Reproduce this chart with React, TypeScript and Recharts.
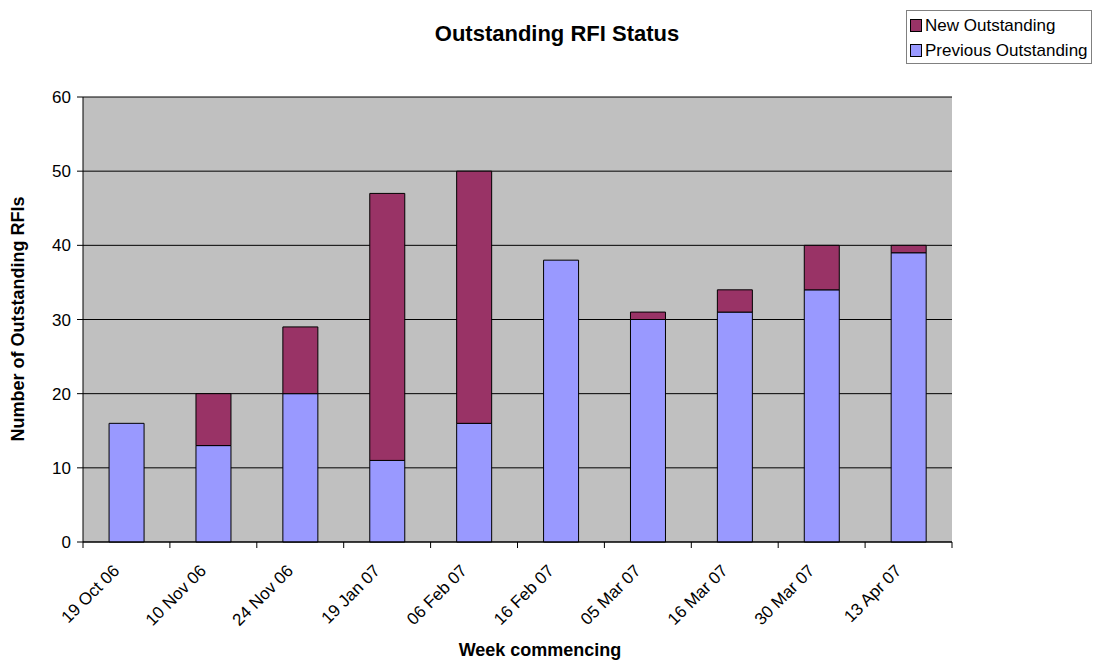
import { BarChart, Bar, XAxis, YAxis, CartesianGrid } from "recharts";

const weeks = [
  "19 Oct 06",
  "10 Nov 06",
  "24 Nov 06",
  "19 Jan 07",
  "06 Feb 07",
  "16 Feb 07",
  "05 Mar 07",
  "16 Mar 07",
  "30 Mar 07",
  "13 Apr 07",
];
const previousOutstanding = [16, 13, 20, 11, 16, 38, 30, 31, 34, 39];
const newOutstanding = [0, 7, 9, 36, 34, 0, 1, 3, 6, 1];
const yTicks = [0, 10, 20, 30, 40, 50, 60];

const data = weeks.map((week, i) => ({
  week,
  previous: previousOutstanding[i],
  fresh: newOutstanding[i],
}));

const FONT = "'Liberation Sans', Arial, sans-serif";
const W = 1098;
const H = 664;
const margin = { top: 97, right: 146, left: 33, bottom: 22 };
const Y_AXIS_W = 50;
const PLOT_W = W - margin.left - margin.right - Y_AXIS_W;
const BAND = PLOT_W / weeks.length;

function XTick(props: any) {
  const { x, y, index } = props;
  const half = BAND / 2;
  const last = index === weeks.length - 1;
  const ax = x - 10;
  const ay = y + 26;
  return (
    <g>
      <line x1={x - half} y1={y} x2={x - half} y2={y + 6} stroke="#000" />
      {last && <line x1={x + half} y1={y} x2={x + half} y2={y + 6} stroke="#000" />}
      <text
        x={ax}
        y={ay}
        textAnchor="end"
        dominantBaseline="central"
        transform={`rotate(-45, ${ax}, ${ay})`}
        fontSize={17}
        fontFamily={FONT}
        fill="#000"
      >
        {props.payload.value}
      </text>
    </g>
  );
}

function LegendBox() {
  const items = [
    { label: "New Outstanding", color: "#993366" },
    { label: "Previous Outstanding", color: "#9999ff" },
  ];
  return (
    <div
      style={{
        position: "absolute",
        left: 906,
        top: 10,
        width: 186,
        height: 54,
        boxSizing: "border-box",
        border: "1px solid #808080",
        background: "#fff",
        padding: "2px 0 0 3px",
        fontFamily: FONT,
        fontSize: 17,
        lineHeight: "25px",
      }}
    >
      {items.map((it) => (
        <div key={it.label} style={{ display: "flex", alignItems: "center", whiteSpace: "nowrap" }}>
          <span
            style={{
              display: "inline-block",
              width: 10,
              height: 11,
              background: it.color,
              border: "1px solid #000",
              marginRight: 3,
            }}
          />
          {it.label}
        </div>
      ))}
    </div>
  );
}

export default function App() {
  return (
    <div style={{ position: "absolute", left: 0, top: 0, width: W, height: H, background: "#fff" }}>
      <BarChart width={W} height={H} data={data} margin={margin} barCategoryGap="30%">
        <CartesianGrid vertical={false} stroke="#000" fill="#c0c0c0" />
        <XAxis
          dataKey="week"
          interval={0}
          height={100}
          tickLine={false}
          tickSize={0}
          tickMargin={0}
          tick={<XTick />}
          axisLine={{ stroke: "#000" }}
        />
        <YAxis
          width={Y_AXIS_W}
          domain={[0, 60]}
          ticks={yTicks}
          interval={0}
          tickSize={6}
          tickMargin={6}
          tick={{ fill: "#000", fontSize: 17, fontFamily: FONT }}
          tickLine={{ stroke: "#000" }}
          axisLine={{ stroke: "#000" }}
        />
        <YAxis
          yAxisId="frame"
          orientation="right"
          width={0}
          domain={[0, 60]}
          tick={false}
          tickLine={false}
          axisLine={{ stroke: "#808080" }}
        />
        <Bar
          dataKey="previous"
          name="Previous Outstanding"
          stackId="a"
          fill="#9999ff"
          stroke="#000"
          strokeWidth={1}
          isAnimationActive={false}
        />
        <Bar
          dataKey="fresh"
          name="New Outstanding"
          stackId="a"
          fill="#993366"
          stroke="#000"
          strokeWidth={1}
          isAnimationActive={false}
        />
      </BarChart>
      <div
        style={{
          position: "absolute",
          left: 0,
          width: 1114,
          top: 21,
          textAlign: "center",
          fontFamily: FONT,
          fontWeight: "bold",
          fontSize: 22,
        }}
      >
        Outstanding RFI Status
      </div>
      <div
        style={{
          position: "absolute",
          left: 0,
          width: 1080,
          top: 640,
          textAlign: "center",
          fontFamily: FONT,
          fontWeight: "bold",
          fontSize: 18,
        }}
      >
        Week commencing
      </div>
      <div
        style={{
          position: "absolute",
          left: 18,
          top: 319,
          transform: "translate(-50%, -50%) rotate(-90deg)",
          whiteSpace: "nowrap",
          fontFamily: FONT,
          fontWeight: "bold",
          fontSize: 18,
        }}
      >
        Number of Outstanding RFIs
      </div>
      <LegendBox />
    </div>
  );
}
